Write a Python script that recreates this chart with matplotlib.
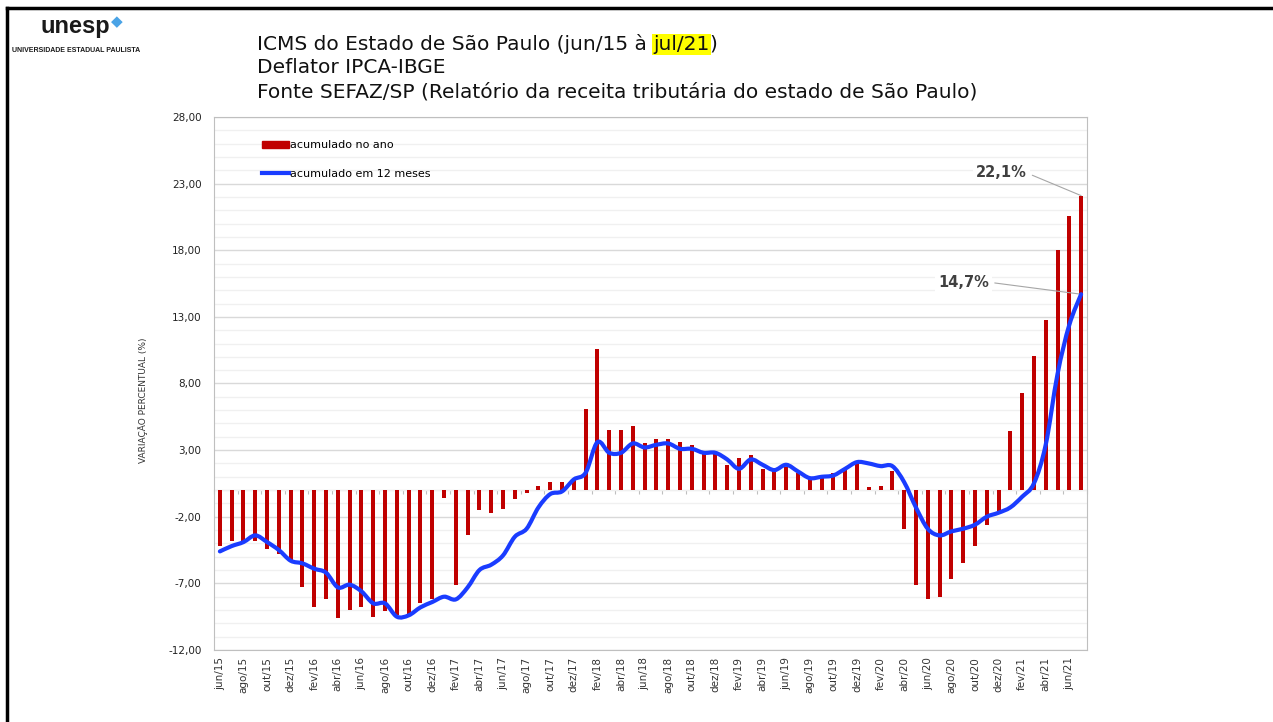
import matplotlib
matplotlib.use('Agg')
import numpy as np
import matplotlib.pyplot as plt
from matplotlib.path import Path
from matplotlib.patches import PathPatch, Patch
from matplotlib.lines import Line2D
from matplotlib.ticker import MultipleLocator

# meses (jun/15 a jul/21)
meses = [
    'jun/15', 'jul/15', 'ago/15', 'set/15', 'out/15', 'nov/15', 'dez/15',
    'jan/16', 'fev/16', 'mar/16', 'abr/16', 'mai/16', 'jun/16',
    'jul/16', 'ago/16', 'set/16', 'out/16', 'nov/16', 'dez/16',
    'jan/17', 'fev/17', 'mar/17', 'abr/17', 'mai/17', 'jun/17',
    'jul/17', 'ago/17', 'set/17', 'out/17', 'nov/17', 'dez/17',
    'jan/18', 'fev/18', 'mar/18', 'abr/18', 'mai/18', 'jun/18',
    'jul/18', 'ago/18', 'set/18', 'out/18', 'nov/18', 'dez/18',
    'jan/19', 'fev/19', 'mar/19', 'abr/19', 'mai/19', 'jun/19',
    'jul/19', 'ago/19', 'set/19', 'out/19', 'nov/19', 'dez/19',
    'jan/20', 'fev/20', 'mar/20', 'abr/20', 'mai/20', 'jun/20',
    'jul/20', 'ago/20', 'set/20', 'out/20', 'nov/20', 'dez/20',
    'jan/21', 'fev/21', 'mar/21', 'abr/21', 'mai/21', 'jun/21', 'jul/21',
]

# variação acumulada no ano (%)
acum_ano = [
    -4.2, -3.8, -3.8, -3.8, -4.4, -4.8, -5.3,
    -7.3, -8.8, -8.2, -9.6, -9.0, -8.8, -9.5, -9.1, -9.4, -9.3, -8.5, -8.2,
    -0.6, -7.1, -3.4, -1.5, -1.7, -1.4, -0.7, -0.2, 0.3, 0.6, 0.6, 0.8,
    6.1, 10.6, 4.5, 4.5, 4.8, 3.5, 3.8, 3.8, 3.6, 3.4, 2.9, 2.7,
    1.9, 2.4, 2.6, 1.6, 1.5, 1.7, 1.3, 0.9, 0.9, 1.3, 1.6, 2.1,
    0.2, 0.3, 1.4, -2.9, -7.1, -8.2, -8.0, -6.7, -5.5, -4.2, -2.6, -1.6,
    4.4, 7.3, 10.1, 12.8, 18.0, 20.6, 22.1,
]

# variação acumulada em 12 meses (%)
acum_12m = [
    -4.6, -4.2, -3.9, -3.4, -3.9, -4.5, -5.3,
    -5.5, -5.9, -6.2, -7.3, -7.1, -7.6, -8.5, -8.5, -9.5, -9.4, -8.8, -8.4,
    -8.0, -8.2, -7.3, -6.0, -5.6, -4.9, -3.5, -2.9, -1.3, -0.3, -0.1, 0.8,
    1.3, 3.6, 2.8, 2.8, 3.5, 3.2, 3.4, 3.5, 3.1, 3.1, 2.8, 2.8,
    2.3, 1.6, 2.3, 1.9, 1.5, 1.9, 1.4, 0.9, 1.0, 1.1, 1.6, 2.1,
    2.0, 1.8, 1.8, 0.6, -1.3, -2.9, -3.4, -3.1, -2.9, -2.6, -2.0, -1.7,
    -1.3, -0.5, 0.5, 3.4, 8.7, 12.4, 14.7,
]

RED = '#C00000'
BLUE = '#1a3cff'
W, H = 1273, 722


def smooth_path(xs, ys):
    # curva suavizada tipo Excel (Bezier passando pelos pontos)
    pts = np.column_stack([xs, ys]).astype(float)
    n = len(pts)
    verts = [pts[0]]
    codes = [Path.MOVETO]
    for i in range(n - 1):
        p0 = pts[max(i - 1, 0)]
        p1 = pts[i]
        p2 = pts[i + 1]
        p3 = pts[min(i + 2, n - 1)]
        verts += [p1 + (p2 - p0) / 6, p2 - (p3 - p1) / 6, p2]
        codes += [Path.CURVE4] * 3
    return Path(verts, codes)


def fmt(v):
    return f'{v:.2f}'.replace('.', ',')


fig = plt.figure(figsize=(W / 100, H / 100), dpi=100)
ax = fig.add_axes([214 / W, 72 / H, 873 / W, 533 / H])

x = np.arange(len(meses))
ax.bar(x, acum_ano, width=0.34, color=RED, zorder=3)
ax.add_patch(PathPatch(smooth_path(x, acum_12m), fill=False, edgecolor=BLUE,
                       lw=3, capstyle='round', joinstyle='round', zorder=4))

ax.set_xlim(-0.5, len(meses) - 0.5)
ax.set_ylim(-12, 28)
yt = np.arange(-12, 29, 5)
ax.set_yticks(yt)
ax.set_yticklabels([fmt(v) for v in yt])
ax.yaxis.set_minor_locator(MultipleLocator(1))
ax.grid(axis='y', which='major', color='#d9d9d9', lw=1)
ax.grid(axis='y', which='minor', color='#f0f0f0', lw=1)
ax.set_axisbelow(True)
ax.tick_params(axis='y', which='both', length=0, pad=9, labelsize=7.5,
               labelcolor='#222222')
ax.set_xticks(x[::2])
ax.set_xticklabels(meses[::2], rotation=90, fontsize=7.5, color='#333333')
ax.tick_params(axis='x', length=0, pad=5)
for s in ax.spines.values():
    s.set_color('#bfbfbf')

# eixo das categorias cruzando no zero
sec = ax.secondary_xaxis(12 / 40)
sec.set_xticks(np.arange(-0.5, len(meses), 2))
sec.set_xticklabels([])
sec.tick_params(length=3, color='#bfbfbf')
sec.spines['bottom'].set_color('#d9d9d9')

handles = [Patch(color=RED), Line2D([], [], color=BLUE, lw=3)]
ax.legend(handles, ['acumulado no ano', 'acumulado em 12 meses'],
          loc='upper left', bbox_to_anchor=(0.043, 0.975), frameon=False,
          fontsize=8, handlelength=2.5, handleheight=0.65, handletextpad=0.1,
          labelspacing=1.7)

ax.annotate('22,1%', xy=(x[-1], acum_ano[-1]), xytext=(68.4, 23.8),
            ha='right', va='center', fontsize=10.5, fontweight='bold',
            color='#404040',
            bbox=dict(boxstyle='square,pad=0.2', fc='white', ec='none'),
            arrowprops=dict(arrowstyle='-', color='#a6a6a6', lw=0.8,
                            relpos=(1, 0.5), shrinkA=2, shrinkB=0))
ax.annotate('14,7%', xy=(x[-1], acum_12m[-1]), xytext=(65.2, 15.6),
            ha='right', va='center', fontsize=10.5, fontweight='bold',
            color='#404040',
            bbox=dict(boxstyle='square,pad=0.2', fc='white', ec='none'),
            arrowprops=dict(arrowstyle='-', color='#a6a6a6', lw=0.8,
                            relpos=(1, 0.5), shrinkA=2, shrinkB=0))

fig.text(143 / W, 1 - 400 / H, 'VARIAÇÃO PERCENTUAL (%)', rotation=90,
         ha='center', va='center', fontsize=6.5, color='#333333')

# título
tfont = dict(fontsize=14.5, color='#111111', family='DejaVu Sans')
y1, y2, y3 = 1 - 50 / H, 1 - 73 / H, 1 - 97 / H
t1 = fig.text(257 / W, y1, 'ICMS do Estado de São Paulo (jun/15 à ',
              va='baseline', **tfont)
t2 = fig.text(0, 0, 'jul/21', va='baseline', **tfont,
              bbox=dict(boxstyle='square,pad=0.05', fc='#ffff00', ec='none'))
fig.canvas.draw()
r = fig.canvas.get_renderer()
bb = t1.get_window_extent(r)
t2.set_position((bb.x1 / W, y1))
bb2 = t2.get_window_extent(r)
fig.text(bb2.x1 / W, y1, ')', va='baseline', **tfont)
fig.text(257 / W, y2, 'Deflator IPCA-IBGE', va='baseline', **tfont)
fig.text(257 / W, y3,
         'Fonte SEFAZ/SP (Relatório da receita tributária do estado de São Paulo)',
         va='baseline', **tfont)

# logo
fig.text(40 / W, 1 - 33 / H, 'unesp', fontsize=17, fontweight='bold',
         color='#1a1a1a', family='Liberation Sans', va='baseline')
fig.text(117 / W, 1 - 22 / H, '◆', fontsize=11, color='#4aa3e6',
         ha='center', va='center')
fig.text(12 / W, 1 - 52 / H, 'UNIVERSIDADE ESTADUAL PAULISTA', fontsize=5,
         fontweight='bold', color='#1a1a1a', family='Liberation Sans',
         va='baseline')

# moldura do slide
fig.add_artist(Line2D([7 / W, 7 / W], [0, 1 - 8 / H], color='black', lw=2.5,
                      transform=fig.transFigure))
fig.add_artist(Line2D([7 / W, 1], [1 - 8 / H, 1 - 8 / H], color='black', lw=2.5,
                      transform=fig.transFigure))

fig.savefig('out.png', dpi=100)
